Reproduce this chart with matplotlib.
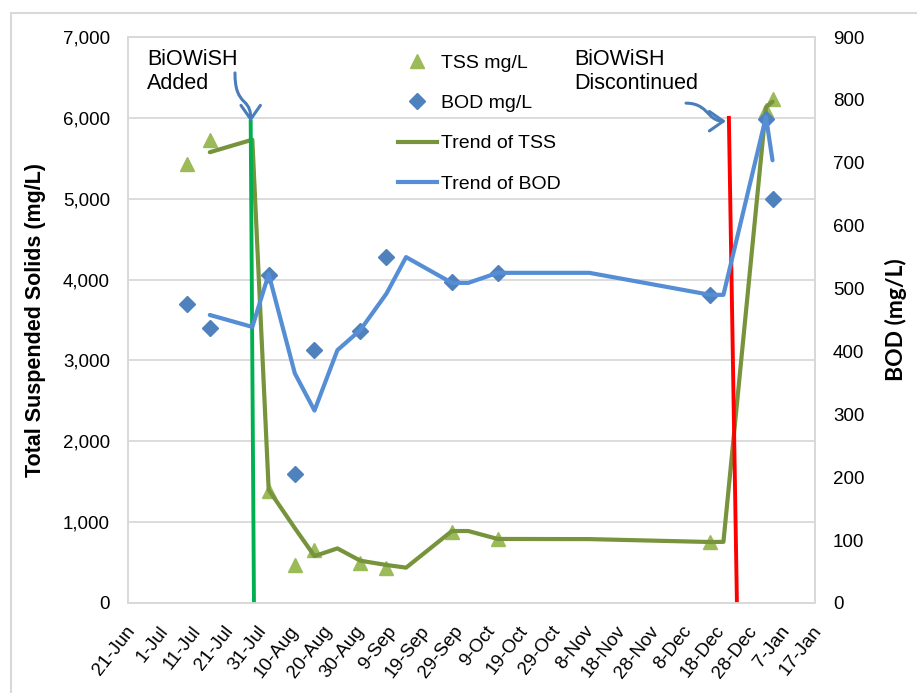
import matplotlib
matplotlib.use("Agg")
import matplotlib.pyplot as plt
import matplotlib.dates as mdates
import matplotlib.transforms as mtransforms
from matplotlib.patches import FancyArrowPatch, Rectangle
from matplotlib.path import Path
from matplotlib.lines import Line2D
import pandas as pd

plt.rcParams['font.family'] = ['Liberation Sans', 'DejaVu Sans']

# sampled values (markers)
sample_dates = pd.to_datetime(["2013-07-09", "2013-07-16", "2013-08-03", "2013-08-11", "2013-08-17",
                               "2013-08-31", "2013-09-08", "2013-09-28", "2013-10-12", "2013-12-16",
                               "2014-01-02", "2014-01-04"])
tss = [5430, 5720, 1380, 470, 655, 495, 435, 880, 795, 755, 6100, 6230]
bod = [475, 438, 522, 205, 402, 432, 550, 511, 525, 490, 770, 642]

# trend lines
trend_dates = pd.to_datetime(["2013-07-16", "2013-07-29", "2013-08-03", "2013-08-11", "2013-08-17",
                              "2013-08-24", "2013-08-31", "2013-09-08", "2013-09-14", "2013-09-28",
                              "2013-10-03", "2013-10-12", "2013-11-09", "2013-12-16", "2013-12-20",
                              "2014-01-02", "2014-01-04"])
tss_trend = [5575, 5730, 1400, 925, 580, 675, 523, 470, 437, 890, 890, 792, 790, 754, 756, 6130, 6200]
bod_trend = [458, 439, 523, 365, 306, 402, 434, 492, 550, 509, 509, 525, 525, 490, 490, 773, 704]

# BiOWiSH start / stop markers
added_dates = pd.to_datetime(["2013-07-28 12:00", "2013-07-29 12:00"])
added_tss = [5950, 0]
stop_dates = pd.to_datetime(["2013-12-21 16:00", "2013-12-24 03:00"])
stop_tss = [6000, 0]

tick_dates = pd.date_range("2013-06-21", "2014-01-17", freq="10D")
tick_labels = [f"{d.day}-{d.strftime('%b')}" for d in tick_dates]

tss_col = '#9BBB59'
tss_line = '#77933C'
bod_col = '#4F81BD'
bod_line = '#558ED5'
arrow_col = '#4A7EBB'
grid_col = '#D9D9D9'

fig = plt.figure(figsize=(9.17, 6.93), dpi=100)
ax = fig.add_axes([0.1396, 0.1299, 0.7492, 0.8167])
ax2 = ax.twinx()

ax.plot(sample_dates, tss, ls='none', marker='^', ms=10, color=tss_col, zorder=3)
ax.plot(trend_dates, tss_trend, color=tss_line, lw=3, zorder=4, solid_capstyle='round')
ax.plot(added_dates, added_tss, color='#00B050', lw=2.8, zorder=5)
ax.plot(stop_dates, stop_tss, color='#FF0000', lw=2.8, zorder=5)

ax2.plot(sample_dates, bod, ls='none', marker='D', ms=8, color=bod_col, zorder=3)
ax2.plot(trend_dates, bod_trend, color=bod_line, lw=3, zorder=4, solid_capstyle='round')

ax.set_xlim(tick_dates[0], tick_dates[-1])
ax.set_ylim(0, 7000)
ax2.set_ylim(0, 900)
ax.set_yticks(range(0, 7001, 1000))
ax.set_yticklabels([f"{v:,}" for v in range(0, 7001, 1000)])
ax2.set_yticks(range(0, 901, 100))
ax.set_xticks(tick_dates)
ax.set_xticklabels(tick_labels, rotation=52, ha='right', va='center', rotation_mode='anchor')

ax.yaxis.grid(True, color=grid_col, lw=1.3)
ax.set_axisbelow(True)
for a in (ax, ax2):
    for s in a.spines.values():
        s.set_color(grid_col)
        s.set_linewidth(1.3)
    a.tick_params(length=0, labelsize=13.5, colors='black')
ax.tick_params(axis='y', pad=13)
ax2.tick_params(axis='y', pad=13)
ax.tick_params(axis='x', pad=0, labelsize=13.5)

offset = mtransforms.ScaledTranslation(0.04, -0.25, fig.dpi_scale_trans)
for lab in ax.get_xticklabels():
    lab.set_transform(lab.get_transform() + offset)

ax.set_ylabel("Total Suspended Solids (mg/L)", fontsize=15.5, fontweight='bold', va='center')
ax.yaxis.set_label_coords(-0.135, 0.5)
ax2.set_ylabel("BOD (mg/L)", fontsize=16.5, fontweight='bold', family=['Lato', 'DejaVu Sans'],
               rotation=90, va='center', ha='center')
ax2.yaxis.set_label_coords(1.118, 0.5)

# legend
handles = [Line2D([], [], ls='none', marker='^', ms=10, color=tss_col),
           Line2D([], [], ls='none', marker='D', ms=8, color=bod_col),
           Line2D([], [], color=tss_line, lw=3),
           Line2D([], [], color=bod_line, lw=3)]
labels = ["TSS mg/L", "BOD mg/L", "Trend of TSS", "Trend of BOD"]
ax2.legend(handles, labels, loc='upper left', bbox_to_anchor=(0.434, 0.922),
           bbox_transform=fig.transFigure, frameon=False, fontsize=14,
           handlelength=2.0, labelspacing=1.17, handletextpad=0.2,
           borderaxespad=0, borderpad=0)

# annotations
ax.text(0.028, 0.978, "BiOWiSH\nAdded", transform=ax.transAxes, fontsize=15.5,
        va='top', ha='left', linespacing=1.14)
ax.text(0.649, 0.978, "BiOWiSH\nDiscontinued", transform=ax.transAxes, fontsize=15.5,
        va='top', ha='left', linespacing=1.14)

x0 = mdates.date2num(added_dates[0])
y0 = added_tss[0]
verts = [(x0 - 4.8, y0 + 606), (x0 - 4.8, y0 + 420), (x0 - 4.0, y0 + 330), (x0 - 2.0, y0 + 250),
         (x0 - 0.3, y0 + 185), (x0, y0 + 130), (x0, y0)]
codes = [Path.MOVETO] + [Path.CURVE4] * 6
ax.add_patch(FancyArrowPatch(path=Path(verts, codes), arrowstyle='->,head_length=0.5,head_width=0.35',
                             mutation_scale=20, lw=2.2, color=arrow_col, zorder=6))

x1 = mdates.date2num(stop_dates[0])
y1 = stop_tss[0]
verts = [(x1 - 13.1, y1 + 182), (x1 - 8.9, y1 + 182), (x1 - 7.3, y1 + 95), (x1 - 5.8, y1 + 33),
         (x1 - 4.6, y1 - 16), (x1 - 3.4, y1 - 41), (x1 - 0.9, y1 - 41)]
ax.add_patch(FancyArrowPatch(path=Path(verts, codes), arrowstyle='->,head_length=0.5,head_width=0.35',
                             mutation_scale=20, lw=2.2, color=arrow_col, zorder=6))

# chart border
fig.patches.append(Rectangle((11 / 917, -0.05), 1.2, 1 - 13 / 693 + 0.05, transform=fig.transFigure,
                             fill=False, edgecolor=grid_col, lw=1.5))

plt.savefig("out.png", dpi=100)
